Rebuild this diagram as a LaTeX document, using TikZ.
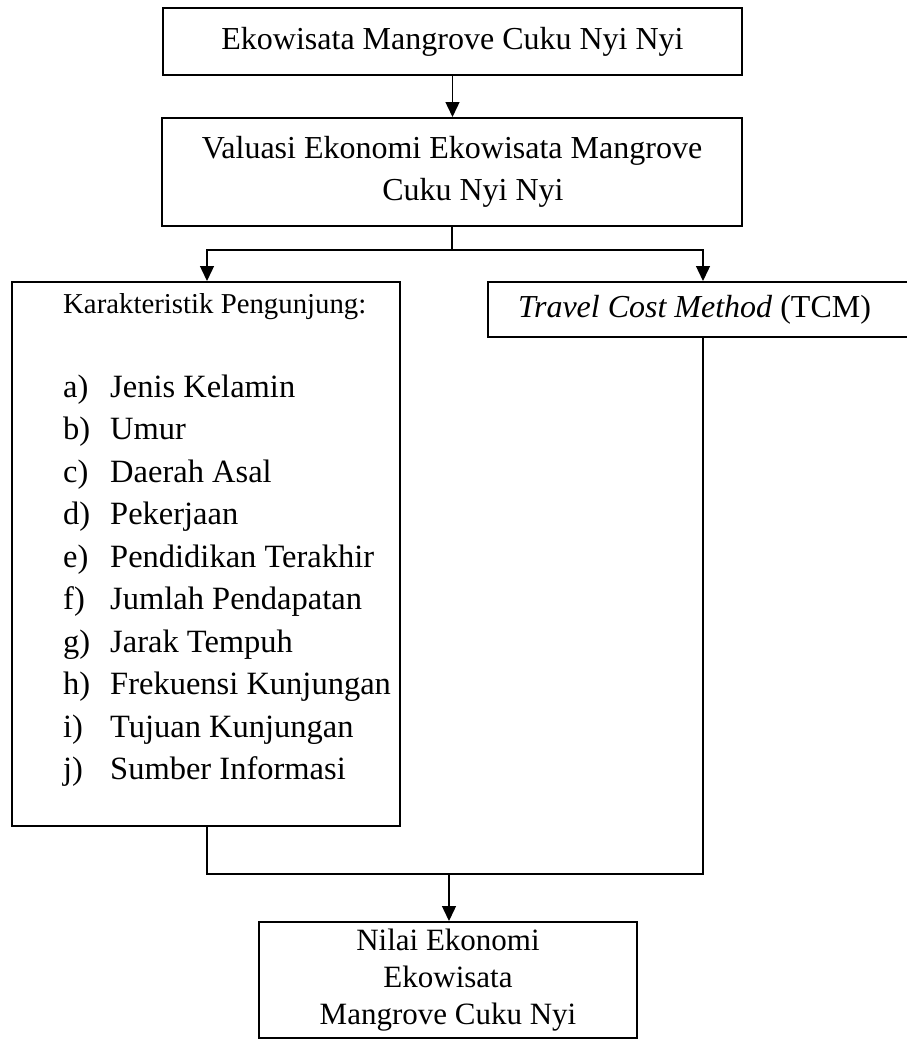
\documentclass[tikz,border=0pt]{standalone}
\usepackage{fontspec}
\setmainfont{Liberation Serif}
\usetikzlibrary{arrows.meta}
\begin{document}
\begin{tikzpicture}[x=1pt,y=-1pt,
  box/.style={draw, line width=2pt, inner sep=0pt, align=center},
  conn/.style={line width=1.4pt},
  arr/.style={conn, -{Triangle[length=15pt,width=14pt]}},
  big/.style={font=\fontsize{32}{42.5}\selectfont},
  head/.style={font=\fontsize{28.8}{34}\selectfont, inner sep=0pt, anchor=base west},
  itm/.style={font=\fontsize{32.5}{40}\selectfont, inner sep=0pt, anchor=base west},
]
\useasboundingbox (0,0) rectangle (907,1039);
\node[box, big, minimum width=579pt, minimum height=67pt] (b1) at (452.5,41.5) {Ekowisata Mangrove Cuku Nyi Nyi};
\node[box, big, minimum width=580pt, minimum height=108pt] (b2) at (452,172) {Valuasi Ekonomi Ekowisata Mangrove\\\hspace*{42pt}Cuku Nyi Nyi};
\node[box, minimum width=388pt, minimum height=544pt] (b3) at (206,554) {};
\node[box, big, minimum width=421pt, minimum height=55pt] (b4) at (698.5,309.5) {\textit{Travel Cost Method} (TCM)\hspace*{8pt}};
\node[box, font=\fontsize{31}{37}\selectfont, minimum width=378pt, minimum height=116pt] (b5) at (448,980) {Nilai Ekonomi\\Ekowisata\\Mangrove Cuku Nyi};

\node[head] (kh) at (63,313) {Karakteristik Pengunjung:};
\foreach \l/\t/\y in {a/Jenis Kelamin/397, b/Umur/439.5, c/Daerah Asal/482, d/Pekerjaan/524.5, e/Pendidikan Terakhir/567, f/Jumlah Pendapatan/609.5, g/Jarak Tempuh/652, h/Frekuensi Kunjungan/694.5, i/Tujuan Kunjungan/737, j/Sumber Informasi/779.5}{
  \node[itm] (l\l) at (63,\y) {\l)};
  \node[itm] (t\l) at (110,\y) {\t};
}

\coordinate (s) at (452,250);
\coordinate (sl) at (207,250);
\coordinate (sr) at (703,250);
\coordinate (m) at (449,874);

\draw[arr] (b1.south) -- (b1.south |- b2.north);
\draw[conn] (b2.south) -- (s);
\draw[arr] (s) -- (sl) -- (sl |- b3.north);
\draw[arr] (s) -- (sr) -- (sr |- b4.north);
\draw[conn] (sl |- b3.south) -- (sl |- m) -- (sr |- m) -- (sr |- b4.south);
\draw[arr] (m) -- (m |- b5.north);
\end{tikzpicture}
\end{document}
